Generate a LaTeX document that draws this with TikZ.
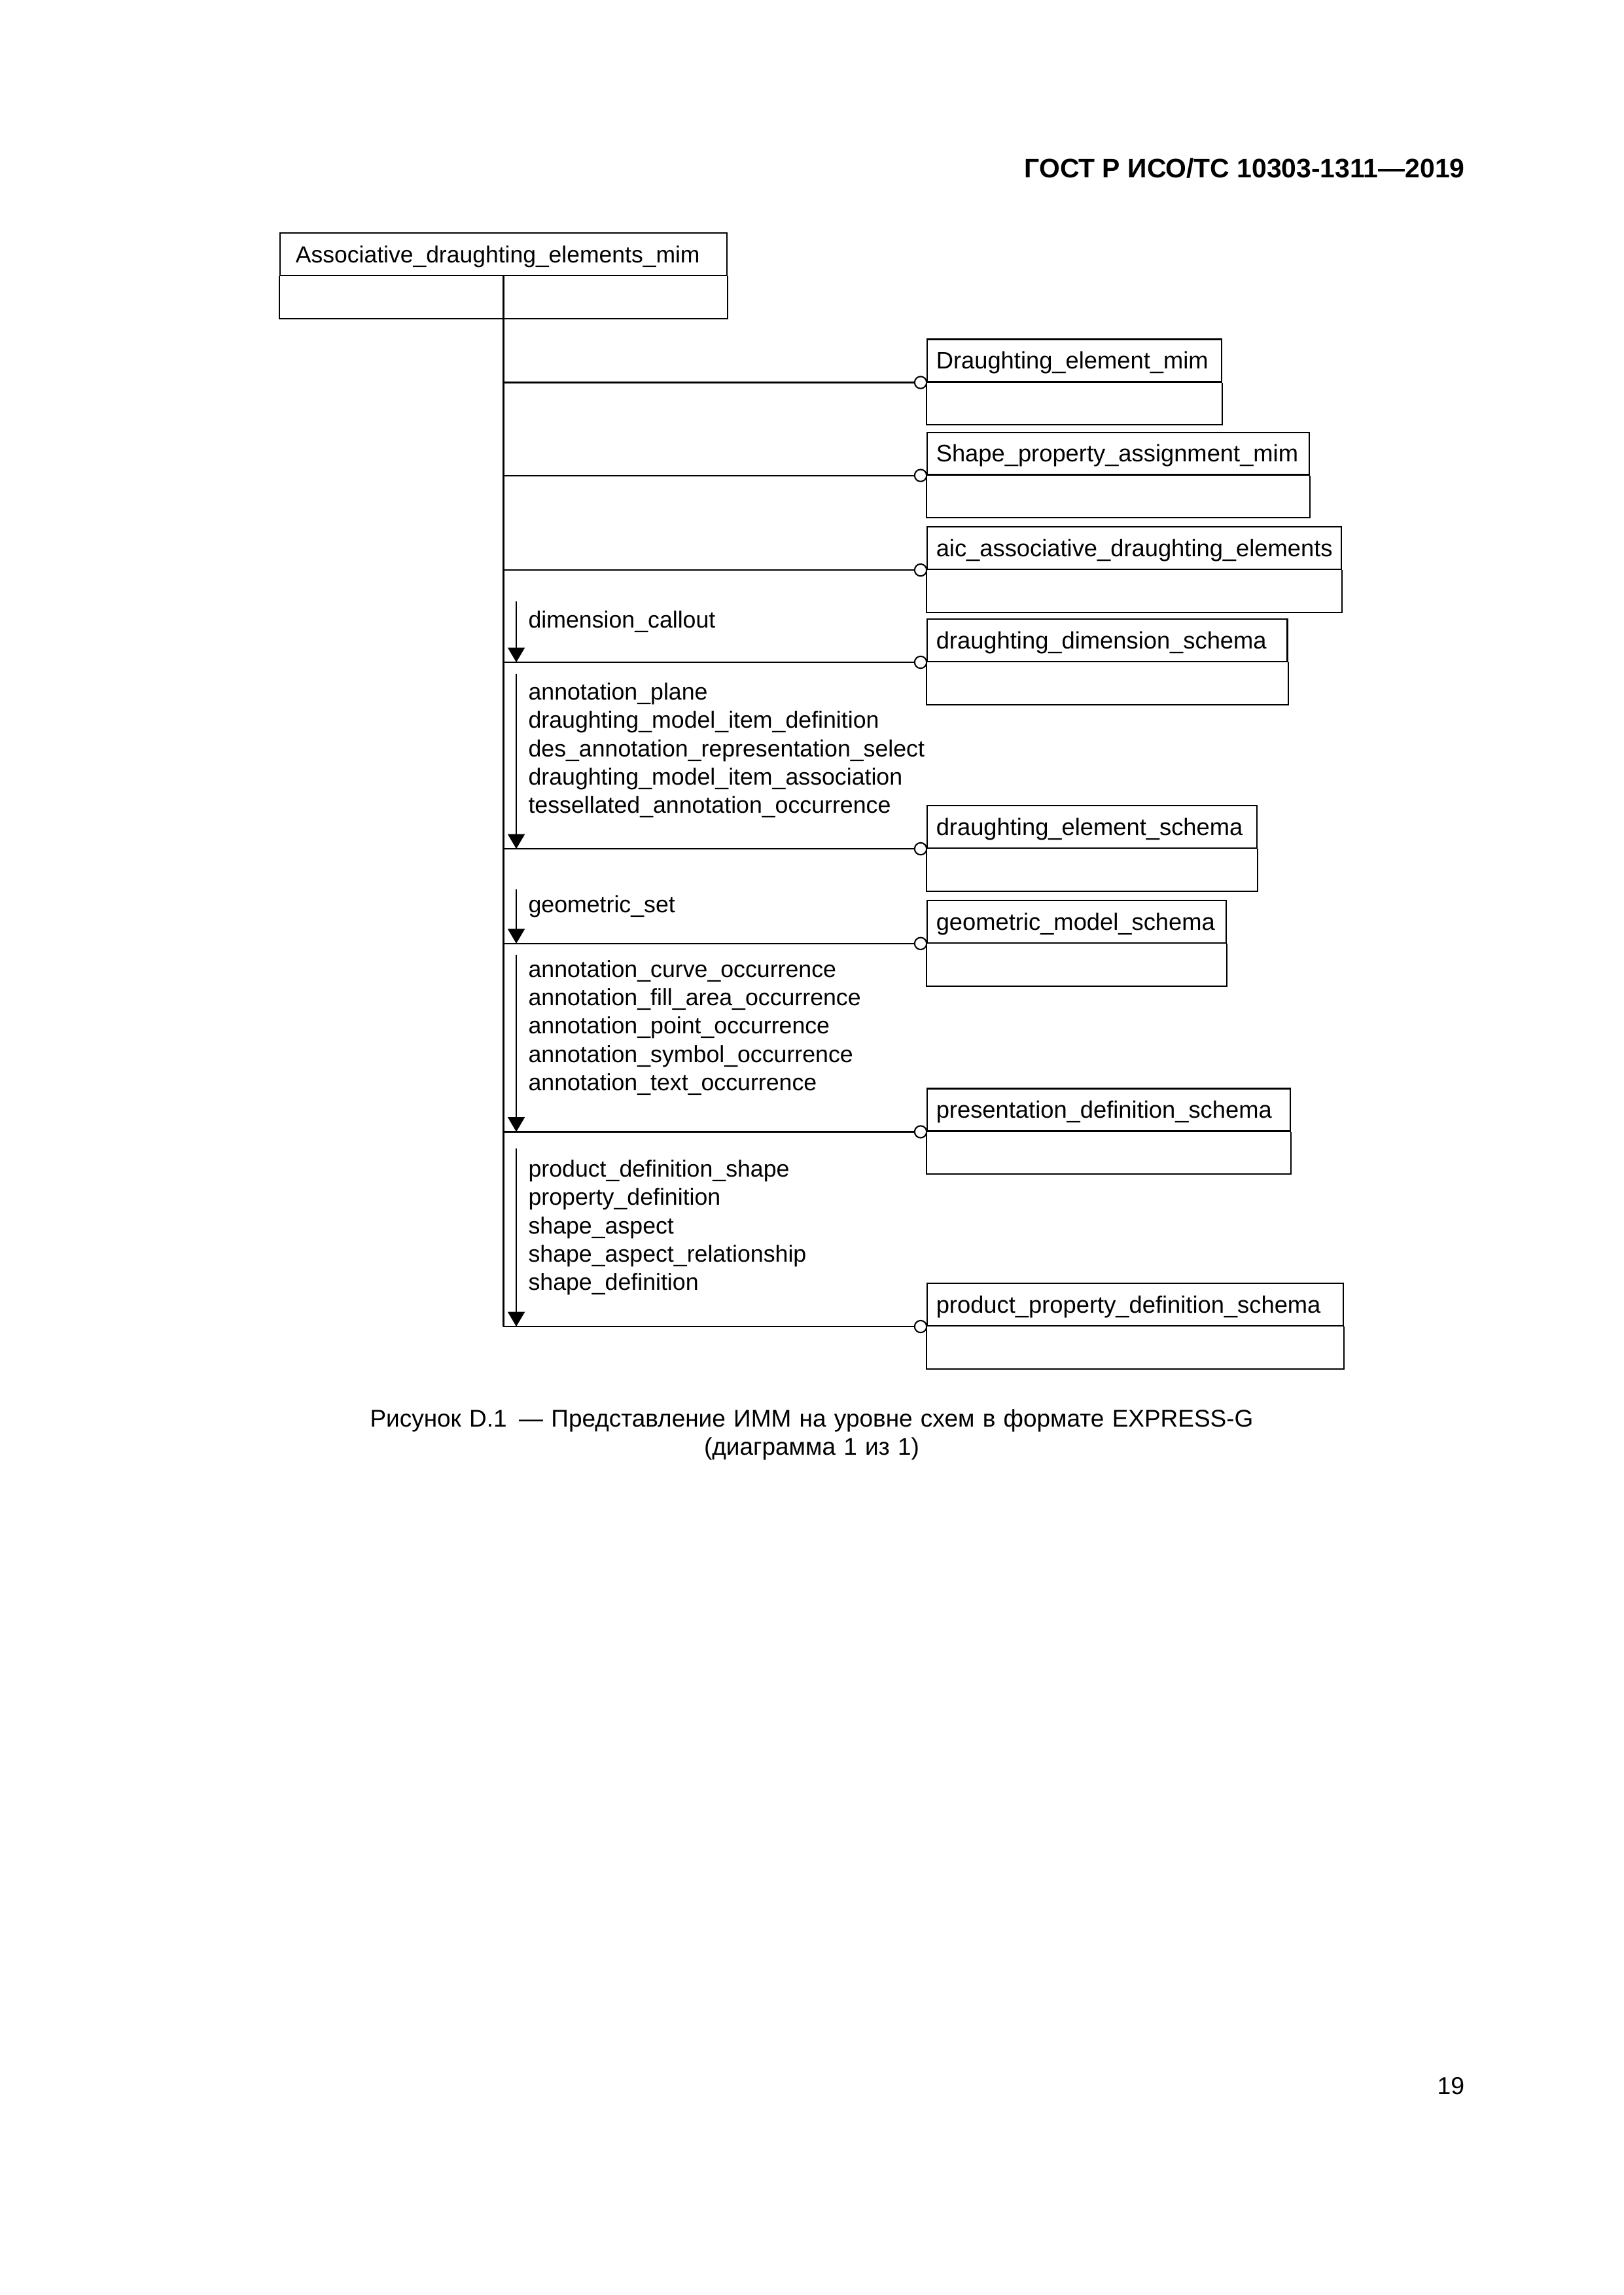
\documentclass[tikz,border=0pt]{standalone}
\usepackage{fontspec}
\setmainfont{Liberation Sans}
\usetikzlibrary{arrows.meta}

\newcommand\boxfont{\fontsize{8.75}{10.45}\selectfont}
\newcommand\itemfont{\fontsize{8.6}{10.45}\selectfont}

\tikzset{
  entbox/.style={draw, line width=0.5pt, anchor=north west, inner xsep=1.15mm, inner ysep=0pt,
    minimum height=5.5mm, text height=6.2pt, text depth=0pt, align=left, font=\boxfont},
  ring/.style={draw, circle, line width=0.5pt, fill=white, inner sep=0pt, minimum size=1.55mm},
  refline/.style={line width=0.5pt},
  reflabel/.style={anchor=base west, text width=60mm, align=left, inner sep=0pt, font=\itemfont},
  reftip/.style={line width=0.45pt, -{Triangle[width=2.2mm,length=1.9mm]}}
}

\begin{document}
\begin{tikzpicture}[x=0.18936mm, y=-0.18936mm]
  \useasboundingbox (0,0) rectangle (1109,1567.6);
  % Page header
  \node[anchor=base east, inner sep=0pt, font=\fontsize{9.85}{12}\selectfont\bfseries] (hdr) at (1001,121.5)
    {ГОСТ Р ИСО/ТС 10303-1311—2019};
  % Schema of the module
  \node[entbox, inner xsep=2mm, text width=53.75mm, font=\fontsize{8.55}{10}\selectfont] (adem) at (191,158.7)
    {Associative\_draughting\_elements\_mim};
  \draw[refline] (adem.south west) -- ++(0,29) -| (adem.south east);
  % Referenced schemas
  \foreach \nm/\ty/\tw/\txt in {
      dem/231.3/35.76/Draughting\_element\_mim,
      spa/294.8/47.12/Shape\_property\_assignment\_mim,
      aic/359.4/51.29/aic\_associative\_draughting\_elements,
      dds/422.4/44.28/draughting\_dimension\_schema,
      des/549.8/40.31/draughting\_element\_schema,
      gms/614.5/36.33/geometric\_model\_schema,
      pds/743.1/44.66/presentation\_definition\_schema,
      ppds/876.1/51.48/product\_property\_definition\_schema} {
    \node[entbox, text width=\tw mm] (\nm) at (633,\ty) {\txt};
    \draw[refline] (\nm.south west) -- ++(0,29) -| (\nm.south east);
    \node[ring] (\nm-c) at ([xshift=-0.775mm]\nm.south west) {};
    \draw[refline] (\nm-c.west) -- (\nm-c.west -| adem.south);
  }
  % Trunk
  \draw[refline] (adem.south) -- (adem.south |- ppds-c.west);
  % Referenced items
  \coordinate (a1) at (352.7,410.8);
  \draw[reftip] (a1) -- (a1 |- dds-c.west);
  \node[reflabel] (l1) at (360.6,429) {dimension\_callout};
  \coordinate (a2) at (352.7,460.4);
  \draw[reftip] (a2) -- (a2 |- des-c.west);
  \node[reflabel] (l2) at (360.6,478) {annotation\_plane\\draughting\_model\_item\_definition\\
    des\_annotation\_representation\_select\\draughting\_model\_item\_association\\
    tessellated\_annotation\_occurrence};
  \coordinate (a3) at (352.7,607.5);
  \draw[reftip] (a3) -- (a3 |- gms-c.west);
  \node[reflabel] (l3) at (360.6,623.4) {geometric\_set};
  \coordinate (a4) at (352.7,652);
  \draw[reftip] (a4) -- (a4 |- pds-c.west);
  \node[reflabel] (l4) at (360.6,667.4) {annotation\_curve\_occurrence\\annotation\_fill\_area\_occurrence\\
    annotation\_point\_occurrence\\annotation\_symbol\_occurrence\\annotation\_text\_occurrence};
  \coordinate (a5) at (352.7,784.5);
  \draw[reftip] (a5) -- (a5 |- ppds-c.west);
  \node[reflabel] (l5) at (360.6,803.8) {product\_definition\_shape\\property\_definition\\
    shape\_aspect\\shape\_aspect\_relationship\\shape\_definition};
  % Caption and page number
  \node[anchor=base, text width=130mm, align=center, inner sep=0pt, font=\fontsize{8.9}{10.4}\selectfont] (cap) at (554.5,974.5)
    {Рисунок D.1\enspace— Представление ИММ на уровне схем в формате EXPRESS-G\\(диаграмма 1 из 1)};
  \node[anchor=base east, inner sep=0pt, font=\fontsize{9}{11}\selectfont] (pg) at (1000.8,1430.4) {19};
\end{tikzpicture}
\end{document}
